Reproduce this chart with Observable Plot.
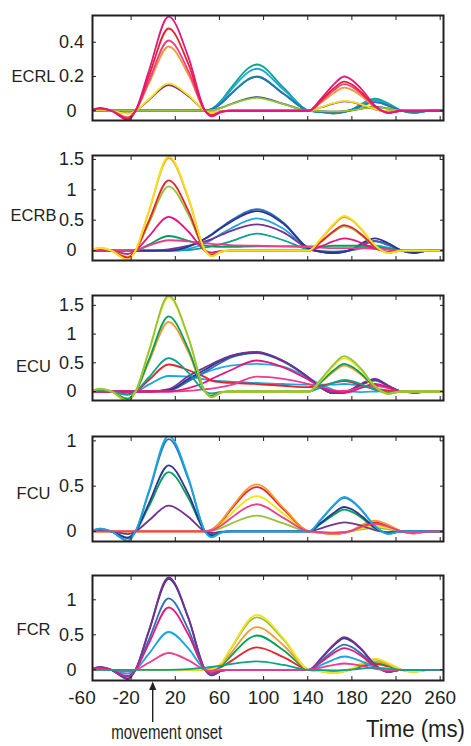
<!DOCTYPE html>
<html><head><meta charset="utf-8">
<script src="https://cdn.jsdelivr.net/npm/d3@7"></script>
<script src="https://cdn.jsdelivr.net/npm/@observablehq/plot@0.6"></script>
<style>
body{margin:0;background:#fff}
#chart{position:relative;width:471px;height:746px;overflow:hidden;font-family:"Liberation Sans",Arial,sans-serif}
#chart .panel{position:absolute;left:0}
</style>
</head><body><div id="chart"></div>
<script>
// time grid (ms) shared by all curves
const grid = [-55,-48,-38,-23,-16,-4,14,32,47,53,62,70,94,118,141,152,163,173,180,189,201,213,225,236,250,263];
const muscles = ["ECRL","ECRB","ECU","FCU","FCR"];
const xTicks = [-60,-20,20,60,100,140,180,220,260];
const xDomain = [-55,263];
const yDomains = [[-0.057,0.556],[-0.163,1.564],[-0.157,1.672],[-0.111,1.048],[-0.153,1.347]];
const yTicks = [[0,0.2,0.4],[0,0.5,1,1.5],[0,0.5,1,1.5],[0,0.5,1],[0,0.5,1]];
const labelLevels = [0.2,0.57,0.44,0.42,0.57];
const panelTops = [0,140,280,420.7,560];

const col = {
  magenta:"#e5177d", pink:"#ec3d8e", red:"#e8222b", orange:"#f39a32", yellow:"#f4e31c",
  lime:"#95c33c", green:"#00a05a", teal:"#0aa38a", cyan:"#1aa6e0", blue:"#2a73b8",
  navy:"#2e3590", purple:"#76328f", sky:"#29a9e1"
};

const ecrlColors = ["teal","cyan","green","blue","navy","lime","purple","yellow","orange","pink","red","magenta"];
const ecrlValues = [
  [0,0,0,0,0,0,0,0,0,0.011,0.062,0.13,0.27,0.135,0,-0.008,-0.016,-0.008,0.007,0.042,0.07,0.042,0,-0.014,0,0],
  [0,0,0,0,0,0,0,0,0,0.01,0.056,0.118,0.245,0.123,0,-0.007,-0.015,-0.007,0.006,0.037,0.062,0.037,0,-0.012,0,0],
  [0,0,0,0,0,0,0,0,0,0.008,0.046,0.096,0.2,0.1,0,-0.006,-0.012,-0.006,0.005,0.03,0.05,0.03,0,-0.01,0,0],
  [0,0,0,0,0,0,0,0,0,0.008,0.045,0.095,0.198,0.099,0,-0.006,-0.012,-0.006,0.005,0.03,0.05,0.03,0,-0.01,0,0],
  [0,0,0,0,0,0,0,0,0,0.003,0.018,0.038,0.08,0.04,0,-0.002,-0.005,-0.002,0.002,0.013,0.022,0.013,0,-0.004,0,0],
  [0,0,0,0,0,0,0,0,0,0.003,0.017,0.036,0.075,0.038,0,-0.002,-0.005,-0.002,0.002,0.012,0.02,0.012,0,-0.004,0,0],
  [0.002,0.005,0,-0.015,0,0.063,0.15,0.084,0,-0.009,-0.002,0,0,0,0,0.019,0.041,0.055,0.05,0.034,0.008,-0.004,0,0,0,0],
  [0.002,0.005,0,-0.016,0,0.067,0.16,0.09,0,-0.01,-0.002,0,0,0,0,0.02,0.044,0.058,0.052,0.036,0.009,-0.004,0,0,0,0],
  [0.004,0.011,0,-0.038,0,0.158,0.375,0.21,0,-0.023,-0.004,0,0,0,0,0.047,0.1,0.135,0.122,0.084,0.02,-0.009,0,0,0,0],
  [0.004,0.012,0,-0.041,0,0.172,0.41,0.23,0,-0.025,-0.004,0,0,0,0,0.054,0.116,0.155,0.14,0.096,0.023,-0.011,0,0,0,0],
  [0.005,0.014,0,-0.048,0,0.2,0.48,0.27,0,-0.029,-0.005,0,0,0,0,0.06,0.128,0.17,0.153,0.105,0.026,-0.012,0,0,0,0],
  [0.006,0.017,0,-0.055,0,0.23,0.55,0.31,0,-0.033,-0.006,0,0,0,0,0.07,0.15,0.2,0.18,0.124,0.03,-0.014,0,0,0,0]
];

const ecrbColors = ["teal","cyan","purple","blue","navy","green","pink","magenta","lime","red","orange","yellow"];
const ecrbValues = [
  [0,0,0,0,0,0,0,0.01,0.05,0.07,0.11,0.15,0.28,0.17,0.015,-0.008,-0.016,-0.008,0.006,0.036,0.06,0.036,0,-0.012,0,0],
  [0,0,0,0,0,0,0,0.03,0.12,0.18,0.28,0.36,0.53,0.36,0.026,-0.016,-0.03,-0.016,0.008,0.048,0.08,0.048,0,-0.016,0,0],
  [0,0,0,0,0,0,0.02,0.08,0.15,0.19,0.26,0.32,0.43,0.3,0.03,-0.013,-0.026,-0.013,0.016,0.096,0.16,0.096,0,-0.03,0,0],
  [0,0,0,0,0,0,0,0.07,0.2,0.27,0.39,0.49,0.68,0.46,0.034,-0.02,-0.04,-0.02,0.015,0.09,0.15,0.09,0,-0.03,0,0],
  [0,0,0,0,0,0,0,0.065,0.195,0.26,0.377,0.468,0.65,0.44,0.033,-0.02,-0.04,-0.02,0.02,0.12,0.2,0.12,0,-0.04,0,0],
  [0,0,0,-0.01,0,0.1,0.24,0.16,0.08,0.07,0.06,0.06,0.07,0.07,0.07,0.07,0.08,0.08,0.08,0.08,0.06,0.03,0,0,0,0],
  [0,0,0,-0.01,0,0.08,0.17,0.15,0.12,0.11,0.1,0.09,0.08,0.07,0.06,0.05,0.04,0.04,0.04,0.04,0.03,0.02,0,0,0,0],
  [0.006,0.017,0,-0.056,0,0.233,0.556,0.31,0,-0.033,-0.006,0,0,0,0,0.07,0.15,0.2,0.18,0.124,0.03,-0.014,0,0,0,0],
  [0.011,0.032,0,-0.106,0,0.444,1.057,0.59,0,-0.063,-0.011,0,0,0,0,0.14,0.3,0.4,0.36,0.248,0.06,-0.028,0,0,0,0],
  [0.012,0.035,0,-0.116,0,0.485,1.155,0.65,0,-0.069,-0.012,0,0,0,0,0.147,0.315,0.42,0.38,0.26,0.063,-0.03,0,0,0,0],
  [0.015,0.046,0,-0.152,0,0.64,1.52,0.85,0,-0.091,-0.015,0,0,0,0,0.19,0.41,0.55,0.5,0.34,0.083,-0.039,0,0,0,0],
  [0.016,0.047,0,-0.155,0,0.65,1.55,0.87,0,-0.093,-0.016,0,0,0,0,0.2,0.43,0.57,0.51,0.35,0.086,-0.04,0,0,0,0]
];

const ecuColors = ["sky","cyan","red","blue","navy","purple","pink","magenta","teal","orange","green","yellow","lime"];
const ecuValues = [
  [0,0,0,0,0,0,0.03,0.2,0.33,0.37,0.42,0.45,0.48,0.43,0.23,0.12,0.03,-0.01,0,-0.01,0,0.01,0,0,0,0],
  [0,0,0,-0.01,0,0.12,0.27,0.26,0.21,0.19,0.18,0.17,0.15,0.13,0.12,0.12,0.12,0.13,0.12,0.1,0.05,0.02,0,0,0,0],
  [0.005,0.014,0,-0.047,0,0.2,0.47,0.37,0.25,0.19,0.16,0.15,0.13,0.1,0.075,0.1,0.15,0.18,0.16,0.1,0.04,0.01,0,0,0,0],
  [0,0,0,0,0,0,0.01,0.18,0.34,0.41,0.51,0.59,0.67,0.52,0.23,0.06,-0.03,-0.02,0.03,0.12,0.19,0.09,0,-0.02,0,0],
  [0,0,0,0,0,0,0.02,0.22,0.38,0.45,0.54,0.61,0.68,0.53,0.24,0.07,-0.03,-0.02,0.04,0.13,0.21,0.1,0,-0.02,0,0],
  [0,0,0,0,0,0,0.04,0.27,0.42,0.48,0.56,0.62,0.69,0.53,0.24,0.07,-0.03,-0.02,0.04,0.14,0.22,0.1,0,-0.02,0,0],
  [0,0,0,0,0,0,0,0.01,0.04,0.05,0.08,0.11,0.26,0.22,0.13,0.07,0.02,0.01,0.03,0.07,0.1,0.06,0,0,0,0],
  [0,0,0,0,0,0,0,0.06,0.16,0.22,0.3,0.37,0.54,0.42,0.2,0.08,0,-0.02,0,0.07,0.13,0.07,0,-0.01,0,0],
  [0.006,0.017,0,-0.058,0,0.244,0.58,0.325,0,-0.035,-0.006,0,0,0,0,0.07,0.15,0.2,0.18,0.124,0.03,-0.014,0,0,0,0],
  [0.012,0.036,0,-0.121,0,0.51,1.21,0.68,0,-0.073,-0.012,0,0,0,0,0.158,0.34,0.45,0.405,0.28,0.068,-0.032,0,0,0,0],
  [0.013,0.039,0,-0.131,0,0.55,1.31,0.73,0,-0.079,-0.013,0,0,0,0,0.168,0.36,0.48,0.43,0.3,0.072,-0.034,0,0,0,0],
  [0.016,0.049,0,-0.164,0,0.69,1.64,0.92,0,-0.098,-0.016,0,0,0,0,0.2,0.435,0.58,0.52,0.36,0.087,-0.04,0,0,0,0],
  [0.017,0.05,0,-0.167,0,0.7,1.67,0.935,0,-0.1,-0.017,0,0,0,0,0.215,0.46,0.615,0.55,0.38,0.09,-0.043,0,0,0,0]
];

const fcuColors = ["lime","yellow","red","orange","purple","green","navy","blue","cyan","pink"];
const fcuValues = [
  [0,0,0,0,0,0,0,0,0,0.007,0.04,0.084,0.175,0.088,0,-0.005,-0.01,-0.005,0.004,0.024,0.04,0.024,0,-0.008,0,0],
  [0,0,0,0,0,0,0,0,0,0.016,0.09,0.187,0.39,0.195,0,-0.012,-0.023,-0.012,0.006,0.036,0.06,0.036,0,-0.012,0,0],
  [0,0,0,0,0,0,0,0,0,0.02,0.113,0.235,0.49,0.245,0,-0.015,-0.03,-0.015,0.01,0.06,0.1,0.06,0,-0.02,0,0],
  [0,0,0,0,0,0,0,0,0,0.02,0.12,0.25,0.52,0.26,0,-0.016,-0.03,-0.016,0.012,0.072,0.12,0.072,0,-0.024,0,0],
  [0.003,0.009,0,-0.029,0,0.12,0.285,0.16,0,-0.017,-0.003,0,0,0,0,0.035,0.075,0.1,0.09,0.062,0.015,-0.007,0,0,0,0],
  [0.007,0.02,0,-0.066,0,0.275,0.655,0.367,0,-0.039,-0.007,0,0,0,0,0.084,0.18,0.24,0.216,0.149,0.036,-0.017,0,0,0,0],
  [0.007,0.022,0,-0.073,0,0.307,0.73,0.409,0,-0.044,-0.007,0,0,0,0,0.095,0.2,0.27,0.243,0.167,0.04,-0.019,0,0,0,0],
  [0.01,0.031,0,-0.102,0,0.428,1.02,0.571,0,-0.061,-0.01,0,0,0,0,0.13,0.278,0.37,0.333,0.23,0.056,-0.026,0,0,0,0],
  [0.011,0.032,0,-0.106,0,0.443,1.055,0.59,0,-0.063,-0.011,0,0,0,0,0.133,0.285,0.38,0.342,0.236,0.057,-0.027,0,0,0,0],
  [0,0,0,0,0,0,0,0,0,0.012,0.069,0.144,0.3,0.15,0,-0.009,-0.018,-0.009,0.009,0.051,0.085,0.051,0,-0.017,0,0]
];

const fcrColors = ["red","green","orange","lime","yellow","navy","purple","blue","cyan","magenta","pink","teal"];
const fcrValues = [
  [0,0,0,0,0,0,0,0,0,0.004,0.04,0.12,0.32,0.18,0,-0.01,-0.02,-0.01,0.008,0.048,0.08,0.048,0,-0.016,0,0],
  [0,0,0,0,0,0,0,0,0,0.006,0.06,0.19,0.49,0.28,0,-0.015,-0.03,-0.015,0.01,0.06,0.1,0.06,0,-0.02,0,0],
  [0,0,0,0,0,0,0,0,0,0.008,0.08,0.23,0.61,0.35,0,-0.018,-0.037,-0.018,0.012,0.072,0.12,0.072,0,-0.024,0,0],
  [0,0,0,0,0,0,0,0,0,0.01,0.095,0.29,0.75,0.43,0,-0.022,-0.045,-0.022,0.015,0.09,0.15,0.09,0,-0.03,0,0],
  [0,0,0,0,0,0,0,0,0,0.01,0.1,0.3,0.785,0.45,0,-0.024,-0.047,-0.024,0.016,0.096,0.16,0.096,0,-0.03,0,0],
  [0.013,0.039,0,-0.13,0,0.546,1.3,0.73,0,-0.078,-0.013,0,0,0,0,0.158,0.338,0.45,0.405,0.28,0.068,-0.032,0,0,0,0],
  [0.013,0.04,0,-0.132,0,0.554,1.32,0.74,0,-0.079,-0.013,0,0,0,0,0.163,0.35,0.466,0.42,0.29,0.07,-0.033,0,0,0,0],
  [0.01,0.031,0,-0.102,0,0.428,1.02,0.571,0,-0.061,-0.01,0,0,0,0,0.126,0.27,0.36,0.324,0.223,0.054,-0.025,0,0,0,0],
  [0.005,0.016,0,-0.054,0,0.227,0.54,0.302,0,-0.032,-0.005,0,0,0,0,0.067,0.143,0.19,0.171,0.118,0.029,-0.013,0,0,0,0],
  [0.009,0.027,0,-0.089,0,0.374,0.89,0.498,0,-0.053,-0.009,0,0,0,0,0.109,0.233,0.31,0.279,0.192,0.047,-0.022,0,0,0,0],
  [0.002,0.007,0,-0.024,0,0.1,0.24,0.134,0,-0.014,-0.002,0,0,0,0,0.032,0.068,0.09,0.081,0.056,0.014,-0.006,0,0,0,0],
  [0,0,0,0,0,0,0,0.01,0.03,0.04,0.06,0.08,0.12,0.07,0,-0.004,-0.007,-0.004,0.003,0.018,0.03,0.018,0,-0.006,0,0]
];

const panelValues = [ecrlValues, ecrbValues, ecuValues, fcuValues, fcrValues];
const panelColors = [ecrlColors, ecrbColors, ecuColors, fcuColors, fcrColors];

const chart = document.getElementById("chart");
const innerTicks = xTicks.filter(t => t >= xDomain[0] && t <= xDomain[1]);

panelValues.forEach((values, i) => {
  const last = i === 4;
  const marks = values.map((vals, k) =>
    Plot.line(grid.map((t, j) => ({t, v: vals[j]})), {
      x: "t", y: "v", stroke: col[panelColors[i][k]], strokeWidth: 1.8,
      curve: "monotone-x", clip: true
    })
  );
  marks.push(
    Plot.axisY(yTicks[i], {anchor: "left", tickSize: 0, tickPadding: 21, textAnchor: "middle",
      tickFormat: d => String(d), fontSize: 18, label: null}),
    Plot.axisY(yTicks[i], {anchor: "left", tickSize: -4, tickFormat: () => "", label: null}),
    Plot.axisY(yTicks[i], {anchor: "right", tickSize: -4, tickFormat: () => "", label: null}),
    Plot.axisX(innerTicks, {anchor: "top", tickSize: -4, tickFormat: () => "", label: null}),
    Plot.axisX(innerTicks, {anchor: "bottom", tickSize: -4, tickFormat: () => "", label: null}),
    Plot.frame({stroke: "#231f20", strokeWidth: 2}),
    Plot.text([muscles[i]], {y: labelLevels[i], frameAnchor: "left", dx: -59, textAnchor: "middle",
      fontSize: 16.5, fill: "#231f20"})
  );
  if (last) {
    marks.push(
      Plot.axisX(xTicks.filter(t => t < 0), {anchor: "bottom", tickSize: 0, tickPadding: 10, dx: -5,
        tickFormat: d => String(d), fontSize: 19, label: null}),
      Plot.axisX(xTicks.filter(t => t > 0), {anchor: "bottom", tickSize: 0, tickPadding: 10,
        tickFormat: d => String(d), fontSize: 19, label: null})
    );
  }
  const plot = Plot.plot({
    width: 471, height: last ? 186 : 140,
    marginLeft: 92, marginRight: 28, marginTop: 15, marginBottom: last ? 66 : 20,
    x: {domain: xDomain},
    y: {domain: yDomains[i]},
    style: {fontFamily: "'Liberation Sans', Arial, sans-serif", fontSize: "18px", color: "#231f20",
      background: "transparent", overflow: "visible"},
    marks
  });
  const div = document.createElement("div");
  div.className = "panel";
  div.style.top = panelTops[i] + "px";
  div.appendChild(plot);
  chart.appendChild(div);

  if (last) {
    const x0 = plot.scale("x").apply(0);
    const svg = d3.select(plot);
    const g = svg.append("g").attr("fill", "#231f20").attr("stroke", "none");
    g.append("line").attr("x1", x0).attr("x2", x0).attr("y1", 162).attr("y2", 128)
      .attr("stroke", "#231f20").attr("stroke-width", 1.4);
    g.append("path").attr("d", `M${x0},121.5L${x0 - 3.6},130L${x0 + 3.6},130Z`);
    g.append("text").attr("x", x0 + 14).attr("y", 179).attr("text-anchor", "middle")
      .attr("font-size", 21).attr("textLength", 111).attr("lengthAdjust", "spacingAndGlyphs")
      .text("movement onset");
    g.append("text").attr("x", 465).attr("y", 177).attr("text-anchor", "end")
      .attr("font-size", 23).attr("textLength", 99).attr("lengthAdjust", "spacingAndGlyphs")
      .text("Time (ms)");
  }
});
</script>
</body></html>
